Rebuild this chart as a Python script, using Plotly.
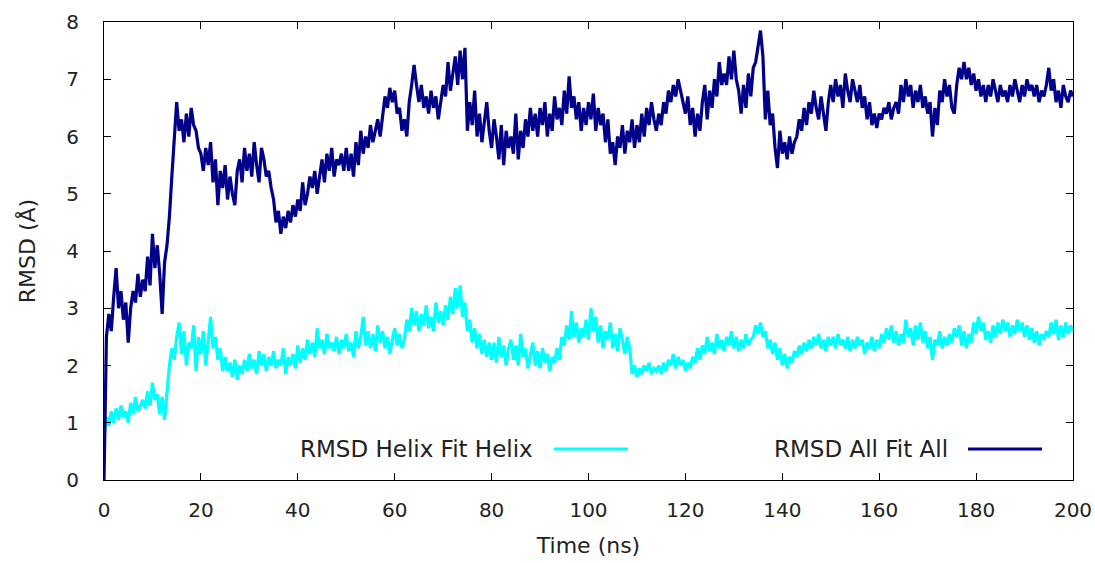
import plotly.graph_objects as go

rmsd_all_fit_all = [
    0.0, 2.5, 2.9, 2.6, 3.2, 3.7, 3.0, 3.3, 2.8, 3.1,
    2.4, 3.0, 3.3, 3.1, 3.6, 3.2, 3.5, 3.3, 3.9, 3.4,
    4.3, 3.7, 4.1, 3.6, 2.9, 3.8, 4.1, 4.6, 5.3, 6.0,
    6.6, 6.1, 6.3, 5.9, 6.4, 6.0, 6.5, 6.2, 6.1, 5.8,
    5.7, 5.4, 5.8, 5.5, 5.9, 5.2, 5.6, 4.8, 5.4, 5.1,
    5.5, 4.9, 5.3, 5.0, 4.8, 5.4, 5.6, 5.2, 5.8, 5.4,
    5.7, 5.3, 5.9, 5.5, 5.2, 5.8, 5.6, 5.3, 5.4, 5.1,
    4.9, 4.5, 4.7, 4.3, 4.6, 4.4, 4.7, 4.5, 4.8, 4.6,
    4.9, 4.7, 5.2, 4.8, 5.0, 5.3, 5.1, 5.4, 5.0, 5.3,
    5.6, 5.2, 5.7, 5.4, 5.8, 5.3, 5.6, 5.5, 5.7, 5.4,
    5.8, 5.4, 5.7, 5.3, 5.9, 5.5, 6.1, 5.7, 6.0, 5.8,
    6.2, 5.9, 6.1, 6.3, 6.0, 6.4, 6.7, 6.5, 6.85, 6.6,
    6.8, 6.4, 6.5, 6.1, 6.3, 6.0, 6.6, 6.9, 7.25, 6.9,
    6.6, 6.9, 6.5, 6.7, 6.4, 6.8, 6.5, 6.7, 6.3, 6.6,
    6.9, 6.7, 7.3, 6.8, 7.1, 7.4, 6.9, 7.5, 7.0, 7.55,
    6.1, 6.6, 6.2, 6.8, 6.0, 6.4, 5.9, 6.3, 6.6, 6.1,
    5.8, 6.3, 6.0, 5.6, 6.2, 5.5, 6.1, 5.8, 6.0, 5.7,
    6.4, 5.6, 6.1, 5.8, 6.3, 6.0, 6.5, 6.1, 6.4, 6.0,
    6.5, 6.2, 6.6, 6.0, 6.4, 6.1, 6.7, 6.3, 6.5, 6.2,
    6.8, 6.4, 7.05, 6.5, 6.7, 6.3, 6.6, 6.1, 6.5, 6.2,
    6.6, 6.3, 6.75, 6.1, 6.5, 6.2, 6.4, 5.9, 6.3, 5.7,
    5.9, 5.5, 6.0, 5.8, 6.2, 5.7, 6.1, 5.9, 6.3, 5.8,
    6.2, 5.9, 6.4, 6.0, 6.5, 6.2, 6.6, 6.3, 6.1, 6.4,
    6.2, 6.6, 6.4, 6.8, 6.6, 6.9, 6.7, 7.0, 6.8, 6.6,
    6.4, 6.7, 6.2, 6.5, 6.0, 6.4, 6.1, 6.6, 6.9, 6.3,
    6.8, 6.5, 7.0, 6.7, 7.3, 6.9, 7.1, 6.9, 7.4, 7.0,
    7.5, 7.0, 6.8, 6.4, 6.9, 6.5, 7.1, 6.7, 7.2, 7.3,
    7.6, 7.85, 7.4, 6.3, 6.8, 6.2, 6.4, 5.8, 5.45, 6.1,
    5.7, 5.9, 5.6, 6.0, 5.7, 5.9, 6.0, 6.3, 6.1, 6.5,
    6.2, 6.6, 6.4, 6.8, 6.5, 6.3, 6.7, 6.4, 6.1, 6.6,
    6.9, 6.6, 7.0, 6.7, 6.9, 6.5, 7.1, 6.8, 6.6, 7.0,
    6.8, 6.6, 6.9, 6.5, 6.7, 6.3, 6.6, 6.2, 6.4, 6.15,
    6.4, 6.3, 6.5, 6.4, 6.6, 6.3, 6.5, 6.6, 6.4, 6.9,
    6.6, 7.0, 6.7, 6.9, 6.5, 6.8, 6.6, 6.9, 6.5, 6.7,
    6.4, 6.6, 6.0, 6.5, 6.2, 6.8, 6.6, 7.0, 6.7, 6.9,
    6.5, 6.4, 6.9, 7.2, 7.0, 7.3, 7.0, 7.2, 6.9, 7.1,
    6.8, 7.0, 6.7, 6.9, 6.6, 6.9, 6.7, 7.0, 6.8, 6.6,
    6.9, 6.7, 6.8, 6.6, 6.9, 6.7, 7.0, 6.8, 6.6, 6.9,
    6.7, 7.0, 6.8, 6.9, 6.7, 6.9, 6.6, 6.8, 6.7, 6.9,
    7.2, 6.8, 7.0, 6.6, 6.8, 6.5, 6.9, 6.7, 6.6, 6.8,
    6.7,
]

rmsd_helix_fit_helix = [
    0.75, 1.1, 0.95, 1.2, 1.0, 1.25, 1.05, 1.3, 1.1, 1.2,
    1.0, 1.35, 1.15, 1.45, 1.2, 1.3, 1.4, 1.25, 1.55, 1.3,
    1.7, 1.4, 1.5, 1.15, 1.45, 1.05, 1.6, 2.0, 2.3, 2.1,
    2.5, 2.75, 2.2, 2.6, 2.0, 2.4, 2.3, 2.7, 1.9, 2.5,
    2.2, 2.6, 2.0, 2.4, 2.85, 2.3, 2.5, 2.1, 2.3, 1.9,
    2.15, 1.9, 2.05, 1.8, 2.1, 1.75, 2.0, 1.85, 2.1, 1.9,
    2.2, 1.95, 2.1, 1.85, 2.25, 2.0, 2.2, 1.9, 2.15, 2.0,
    2.25, 1.95, 2.1, 2.0, 2.3, 1.85, 2.15, 2.0, 2.2, 1.95,
    2.35, 2.05, 2.3, 2.1, 2.45, 2.2, 2.4, 2.15, 2.65, 2.3,
    2.45, 2.2, 2.55, 2.3, 2.4, 2.25, 2.5, 2.2, 2.45, 2.3,
    2.55, 2.25, 2.4, 2.15, 2.6, 2.3, 2.5, 2.85, 2.35, 2.6,
    2.3, 2.55, 2.25, 2.7, 2.4, 2.6, 2.3, 2.5, 2.2, 2.45,
    2.65, 2.35, 2.55, 2.3, 2.45, 2.8, 2.6, 3.0, 2.7, 2.95,
    2.6, 2.9, 2.7, 3.05, 2.65, 2.85, 2.6, 3.1, 2.75, 2.95,
    2.7, 3.05, 2.8, 3.2, 2.9, 3.35, 3.0, 3.4, 2.85, 3.1,
    2.6, 2.8, 2.4, 2.65, 2.3, 2.55, 2.2, 2.45, 2.15, 2.4,
    2.1, 2.4, 2.05, 2.5, 2.15, 2.35, 2.0, 2.3, 2.45, 2.1,
    2.35, 2.0, 2.55, 2.15, 2.3, 1.95, 2.2, 2.4, 2.0, 2.25,
    1.95, 2.3, 2.05, 2.2, 1.9, 2.15, 2.05, 2.3, 2.1, 2.5,
    2.35, 2.7, 2.45, 2.95, 2.5, 2.75, 2.4, 2.65, 2.5, 2.8,
    2.45, 3.0, 2.6, 2.85, 2.4, 2.7, 2.3, 2.6, 2.45, 2.75,
    2.3, 2.55, 2.25, 2.65, 2.45, 2.2, 2.5, 2.3, 1.85, 2.0,
    1.8, 1.95, 1.85, 2.0, 1.9, 2.05, 1.85, 1.95, 1.9, 2.0,
    1.85, 2.05, 1.9, 2.1, 2.0, 2.2, 1.95, 2.15, 2.0, 2.1,
    1.9, 2.05, 1.95, 2.15, 2.05, 2.3, 2.1, 2.35, 2.2, 2.5,
    2.25, 2.4, 2.2, 2.55, 2.3, 2.45, 2.25, 2.5, 2.35, 2.6,
    2.3, 2.5, 2.25, 2.45, 2.3, 2.55, 2.35, 2.45, 2.5, 2.7,
    2.55, 2.75, 2.5, 2.6, 2.3, 2.45, 2.2, 2.4, 2.1, 2.3,
    2.0, 2.2, 1.95, 2.15, 2.05, 2.25, 2.15, 2.35, 2.2, 2.4,
    2.25, 2.45, 2.3, 2.5, 2.35, 2.55, 2.3, 2.45, 2.25, 2.5,
    2.35, 2.5, 2.3, 2.55, 2.35, 2.45, 2.3, 2.5, 2.25, 2.45,
    2.3, 2.5, 2.35, 2.45, 2.2, 2.4, 2.3, 2.5, 2.25, 2.45,
    2.3, 2.55, 2.4, 2.65, 2.45, 2.7, 2.4, 2.6, 2.35, 2.55,
    2.4, 2.8, 2.5, 2.65, 2.35, 2.7, 2.45, 2.75, 2.4, 2.6,
    2.3, 2.5, 2.1, 2.45, 2.35, 2.6, 2.3, 2.5, 2.35, 2.55,
    2.4, 2.65, 2.5, 2.7, 2.35, 2.6, 2.3, 2.55, 2.4, 2.75,
    2.55, 2.85, 2.6, 2.75, 2.45, 2.6, 2.4, 2.7, 2.5, 2.75,
    2.55, 2.8, 2.6, 2.75, 2.5, 2.7, 2.55, 2.8, 2.6, 2.75,
    2.5, 2.7, 2.45, 2.65, 2.4, 2.6, 2.35, 2.55, 2.45, 2.6,
    2.5, 2.75, 2.55, 2.8, 2.45, 2.7, 2.5, 2.75, 2.55, 2.7,
    2.6,
]

time_step_ns = 0.5
time_ns = [i * time_step_ns for i in range(len(rmsd_all_fit_all))]

series_names = ["RMSD Helix Fit Helix", "RMSD All Fit All"]
series_colors = ["#00ffff", "#00008b"]
x_ticks = [0, 20, 40, 60, 80, 100, 120, 140, 160, 180, 200]
y_ticks = [0, 1, 2, 3, 4, 5, 6, 7, 8]

FONT = "DejaVu Sans"
TXT = "#222222"

fig = go.Figure()
fig.add_trace(go.Scatter(x=time_ns, y=rmsd_helix_fit_helix, mode="lines",
                         name=series_names[0],
                         line=dict(color=series_colors[0], width=3.2)))
fig.add_trace(go.Scatter(x=time_ns, y=rmsd_all_fit_all, mode="lines",
                         name=series_names[1],
                         line=dict(color=series_colors[1], width=3.2)))

axis_common = dict(showline=True, linecolor="black", linewidth=1, mirror="ticks",
                   ticks="inside", ticklen=7, tickcolor="black", tickwidth=1,
                   showgrid=False, zeroline=False, automargin=False,
                   tickfont=dict(family=FONT, size=20, color=TXT))

fig.update_xaxes(range=[0, 200], tickvals=x_ticks, ticktext=[str(v) for v in x_ticks],
                 ticklabelstandoff=12,
                 title=dict(text="Time (ns)", font=dict(family=FONT, size=22, color=TXT),
                            standoff=16),
                 **axis_common)
fig.update_yaxes(range=[0, 8], tickvals=y_ticks, ticktext=[str(v) for v in y_ticks],
                 ticklabelstandoff=20,
                 title=dict(text="RMSD (Å)", font=dict(family=FONT, size=22, color=TXT),
                            standoff=24),
                 **axis_common)

# gnuplot-style key: text right-aligned, sample line to its right
legend_text_right = [535, 950]
legend_line_x = [(554, 628), (968, 1042)]
legend_y = 449
W, H = 1095, 563
ML, MR, MT, MB = 104, 22, 22, 83
pw, ph = W - ML - MR, H - MT - MB

def px_to_paper_x(px):
    return (px - ML) / pw

def px_to_paper_y(py):
    return (H - MB - py) / ph

for name, color, xr, (l0, l1) in zip(series_names, series_colors, legend_text_right, legend_line_x):
    fig.add_annotation(x=px_to_paper_x(xr), y=px_to_paper_y(legend_y), xref="paper", yref="paper",
                       text=name, showarrow=False, xanchor="right", yanchor="middle",
                       font=dict(family=FONT, size=23, color=TXT))
    fig.add_shape(type="line", xref="paper", yref="paper",
                  x0=px_to_paper_x(l0), x1=px_to_paper_x(l1),
                  y0=px_to_paper_y(legend_y), y1=px_to_paper_y(legend_y),
                  line=dict(color=color, width=3))

fig.update_layout(width=W, height=H, margin=dict(l=ML, r=MR, t=MT, b=MB),
                  plot_bgcolor="white", paper_bgcolor="white", showlegend=False)

fig.write_html("out.html")
